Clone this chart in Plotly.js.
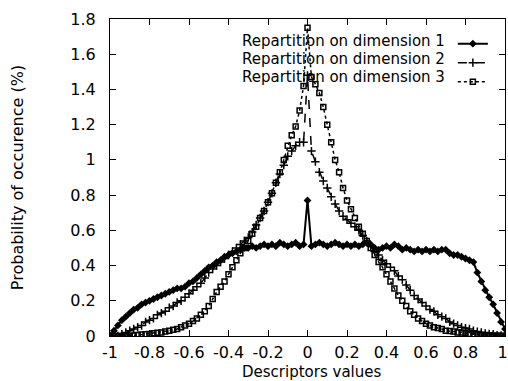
<!DOCTYPE html>
<html>
<head>
<meta charset="utf-8">
<script src="https://cdn.plot.ly/plotly-3.0.1.min.js"></script>
<style>html,body{margin:0;padding:0;background:#fff;}#chart{width:508px;height:381px;}</style>
</head>
<body>
<div id="chart"></div>
<script>
// Descriptor values (x)
const descriptorValues = [-1.00,-0.98,-0.96,-0.94,-0.92,-0.90,-0.88,-0.86,-0.84,-0.82,-0.80,-0.78,-0.76,-0.74,-0.72,-0.70,-0.68,-0.66,-0.64,-0.62,-0.60,-0.58,-0.56,-0.54,-0.52,-0.50,-0.48,-0.46,-0.44,-0.42,-0.40,-0.38,-0.36,-0.34,-0.32,-0.30,-0.28,-0.26,-0.24,-0.22,-0.20,-0.18,-0.16,-0.14,-0.12,-0.10,-0.08,-0.06,-0.04,-0.02,0.00,0.02,0.04,0.06,0.08,0.10,0.12,0.14,0.16,0.18,0.20,0.22,0.24,0.26,0.28,0.30,0.32,0.34,0.36,0.38,0.40,0.42,0.44,0.46,0.48,0.50,0.52,0.54,0.56,0.58,0.60,0.62,0.64,0.66,0.68,0.70,0.72,0.74,0.76,0.78,0.80,0.82,0.84,0.86,0.88,0.90,0.92,0.94,0.96,0.98,1.00];

// Repartition on dimension 1
const dim1 = [0.00,0.03,0.06,0.09,0.11,0.13,0.15,0.16,0.18,0.19,0.20,0.21,0.22,0.23,0.24,0.25,0.26,0.27,0.27,0.28,0.30,0.31,0.33,0.35,0.37,0.39,0.40,0.42,0.43,0.45,0.46,0.47,0.48,0.49,0.50,0.50,0.51,0.50,0.51,0.52,0.51,0.52,0.51,0.53,0.52,0.51,0.52,0.53,0.51,0.52,0.77,0.51,0.52,0.53,0.52,0.51,0.52,0.53,0.52,0.51,0.52,0.51,0.52,0.51,0.52,0.53,0.52,0.50,0.49,0.50,0.51,0.50,0.52,0.51,0.49,0.50,0.49,0.48,0.49,0.48,0.49,0.48,0.49,0.48,0.49,0.49,0.47,0.46,0.46,0.45,0.44,0.43,0.42,0.36,0.31,0.26,0.22,0.18,0.13,0.08,0.04];

// Repartition on dimension 2
const dim2 = [0.00,0.00,0.00,0.01,0.02,0.03,0.04,0.05,0.06,0.08,0.09,0.10,0.12,0.13,0.14,0.16,0.17,0.19,0.20,0.22,0.24,0.26,0.28,0.30,0.33,0.36,0.38,0.40,0.42,0.44,0.46,0.48,0.50,0.52,0.54,0.56,0.59,0.63,0.67,0.71,0.76,0.81,0.87,0.92,0.97,1.02,1.05,1.08,1.10,1.10,1.48,1.05,0.99,0.93,0.88,0.84,0.79,0.75,0.71,0.68,0.66,0.64,0.62,0.60,0.57,0.54,0.51,0.48,0.46,0.43,0.41,0.39,0.37,0.34,0.32,0.29,0.26,0.23,0.21,0.19,0.17,0.15,0.14,0.12,0.11,0.10,0.08,0.07,0.06,0.05,0.045,0.04,0.03,0.025,0.02,0.015,0.012,0.01,0.005,0.003,0.00];

// Repartition on dimension 3
const dim3 = [0.00,0.00,0.00,0.00,0.00,0.00,0.003,0.005,0.008,0.01,0.012,0.015,0.018,0.02,0.025,0.03,0.035,0.04,0.05,0.06,0.07,0.085,0.10,0.12,0.14,0.17,0.21,0.25,0.28,0.31,0.35,0.39,0.43,0.47,0.50,0.54,0.58,0.62,0.67,0.71,0.76,0.81,0.87,0.93,1.00,1.08,1.14,1.19,1.28,1.42,1.75,1.47,1.43,1.38,1.30,1.20,1.10,1.00,0.93,0.84,0.77,0.72,0.67,0.62,0.58,0.54,0.50,0.46,0.42,0.39,0.35,0.31,0.27,0.23,0.20,0.17,0.14,0.12,0.10,0.085,0.07,0.06,0.05,0.045,0.04,0.03,0.028,0.025,0.02,0.02,0.015,0.012,0.01,0.008,0.006,0.005,0.004,0.003,0.002,0.001,0.00];

const seriesNames = ["Repartition on dimension 1","Repartition on dimension 2","Repartition on dimension 3"];
const xTickVals = [-1,-0.8,-0.6,-0.4,-0.2,0,0.2,0.4,0.6,0.8,1];
const xTickText = ["-1","-0.8","-0.6","-0.4","-0.2","0","0.2","0.4","0.6","0.8","1\u00a0"];
const yTickVals = [0,0.2,0.4,0.6,0.8,1,1.2,1.4,1.6,1.8];
const yTickText = ["0","0.2","0.4","0.6","0.8","1","1.2","1.4","1.6","1.8"];
const xTitle = "Descriptors values";
const yTitle = "Probability of occurence (%)";

const FONT = "DejaVu Sans, Arial, sans-serif";

const traces = [
  {x: descriptorValues, y: dim1, type: 'scatter', mode: 'lines+markers', name: ' ',
   line: {color: '#000', width: 2, dash: 'solid'},
   marker: {symbol: 'diamond', size: 6, color: '#000'}},
  {x: descriptorValues, y: dim2, type: 'scatter', mode: 'lines+markers', name: ' ',
   line: {color: '#000', width: 1.5, dash: 'dash'},
   marker: {symbol: 'cross-thin-open', size: 6, color: '#000', line: {color: '#000', width: 1.5}}},
  {x: descriptorValues, y: dim3, type: 'scatter', mode: 'lines+markers', name: ' ',
   line: {color: '#000', width: 1.5, dash: 'dot'},
   marker: {symbol: 'square-open', size: 5, color: '#000', line: {color: '#000', width: 1.5}}}
];

const legendRowsY = [0.930, 0.873, 0.816];
const annotations = seriesNames.map((t, i) => ({
  xref: 'paper', yref: 'paper', x: 0.853, y: legendRowsY[i],
  xanchor: 'right', yanchor: 'middle', showarrow: false,
  text: t, font: {family: FONT, size: 15, color: '#000'}
}));
// x-axis title drawn as an annotation so it can sit at the very bottom like the reference
annotations.push({
  xref: 'paper', yref: 'paper', x: 0.51, y: 0, yshift: -26,
  xanchor: 'center', yanchor: 'top', showarrow: false, borderpad: 0,
  text: xTitle, font: {family: FONT, size: 15, color: '#000'}
});

const layout = {
  width: 508, height: 381,
  margin: {l: 110, r: 3, t: 19, b: 45},
  paper_bgcolor: '#fff', plot_bgcolor: '#fff',
  font: {family: FONT, size: 16, color: '#000'},
  showlegend: true,
  legend: {x: 0.868, y: 0.968, xanchor: 'left', yanchor: 'top',
           bgcolor: 'rgba(0,0,0,0)', borderwidth: 0, tracegroupgap: 0,
           font: {family: FONT, size: 9, color: '#000'}},
  xaxis: {range: [-1, 1], tickvals: xTickVals, ticktext: xTickText,
          ticks: 'inside', ticklen: 6, tickcolor: '#000', mirror: 'ticks',
          showline: true, linecolor: '#000', linewidth: 1, showgrid: false, zeroline: false,
          ticklabeloverflow: 'allow', ticklabelstandoff: 2,
          tickfont: {family: FONT, size: 16, color: '#000'}},
  yaxis: {range: [0, 1.8], tickvals: yTickVals, ticktext: yTickText,
          ticks: 'inside', ticklen: 6, tickcolor: '#000', mirror: 'ticks',
          showline: true, linecolor: '#000', linewidth: 1, showgrid: false, zeroline: false,
          ticklabelstandoff: 10,
          tickfont: {family: FONT, size: 16, color: '#000'},
          title: {text: yTitle, font: {family: FONT, size: 16, color: '#000'}, standoff: 42}},
  annotations: annotations
};

Plotly.newPlot('chart', traces, layout, {displayModeBar: false, staticPlot: true});
</script>
</body>
</html>
